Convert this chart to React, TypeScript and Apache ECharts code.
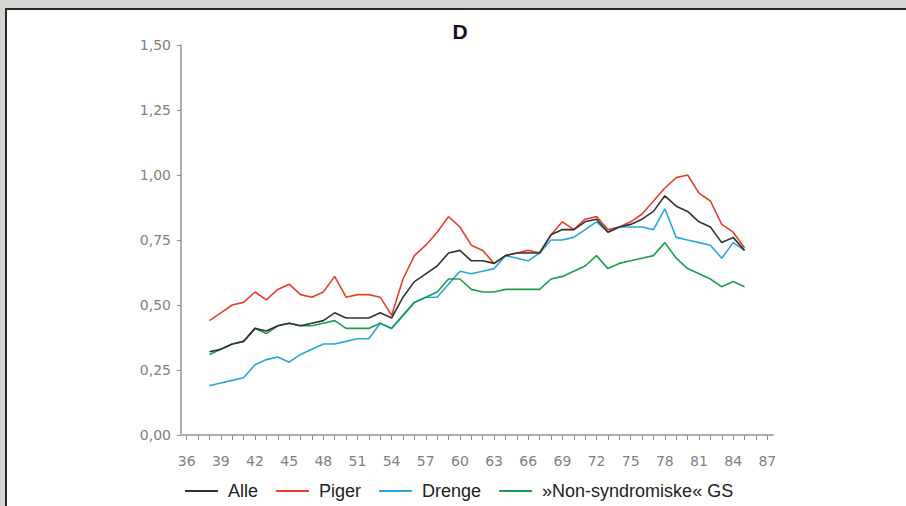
import React, { useEffect, useRef } from "react";
import * as echarts from "echarts";

const years: string[] = [];
for (let y = 36; y <= 87; y++) years.push(String(y));

// values for ages 38..85
const alle = [0.32, 0.33, 0.35, 0.36, 0.41, 0.40, 0.42, 0.43, 0.42, 0.43, 0.44, 0.47, 0.45, 0.45, 0.45, 0.47, 0.45, 0.53, 0.59, 0.62, 0.65, 0.70, 0.71, 0.67, 0.67, 0.66, 0.69, 0.70, 0.70, 0.70, 0.77, 0.79, 0.79, 0.82, 0.83, 0.78, 0.80, 0.81, 0.83, 0.86, 0.92, 0.88, 0.86, 0.82, 0.80, 0.74, 0.76, 0.71];
const piger = [0.44, 0.47, 0.50, 0.51, 0.55, 0.52, 0.56, 0.58, 0.54, 0.53, 0.55, 0.61, 0.53, 0.54, 0.54, 0.53, 0.46, 0.60, 0.69, 0.73, 0.78, 0.84, 0.80, 0.73, 0.71, 0.66, 0.69, 0.70, 0.71, 0.70, 0.77, 0.82, 0.79, 0.83, 0.84, 0.79, 0.80, 0.82, 0.85, 0.90, 0.95, 0.99, 1.00, 0.93, 0.90, 0.81, 0.78, 0.72];
const drenge = [0.19, 0.20, 0.21, 0.22, 0.27, 0.29, 0.30, 0.28, 0.31, 0.33, 0.35, 0.35, 0.36, 0.37, 0.37, 0.43, 0.41, 0.46, 0.51, 0.53, 0.53, 0.58, 0.63, 0.62, 0.63, 0.64, 0.69, 0.68, 0.67, 0.70, 0.75, 0.75, 0.76, 0.79, 0.82, 0.78, 0.80, 0.80, 0.80, 0.79, 0.87, 0.76, 0.75, 0.74, 0.73, 0.68, 0.74, 0.71];
const nonSynd = [0.31, 0.33, 0.35, 0.36, 0.41, 0.39, 0.42, 0.43, 0.42, 0.42, 0.43, 0.44, 0.41, 0.41, 0.41, 0.43, 0.41, 0.46, 0.51, 0.53, 0.55, 0.60, 0.60, 0.56, 0.55, 0.55, 0.56, 0.56, 0.56, 0.56, 0.60, 0.61, 0.63, 0.65, 0.69, 0.64, 0.66, 0.67, 0.68, 0.69, 0.74, 0.68, 0.64, 0.62, 0.60, 0.57, 0.59, 0.57];

const seriesNames = ["Alle", "Piger", "Drenge", "»Non-syndromiske« GS"];
const seriesColors = ["#333333", "#e5402a", "#29a6df", "#1d9e4f"];
const firstAge = 38;

function pad(vals: number[]): (number | null)[] {
  const out: (number | null)[] = [];
  years.forEach((y) => {
    const i = Number(y) - firstAge;
    out.push(i >= 0 && i < vals.length ? vals[i] : null);
  });
  return out;
}

const FONT = "'Liberation Sans', Arial, sans-serif";
const TICKFONT = "'DejaVu Sans', sans-serif";

export default function App() {
  const ref = useRef<HTMLDivElement>(null);
  useEffect(() => {
    if (!ref.current) return;
    const chart = echarts.init(ref.current, undefined, { renderer: "svg" });
    const data = [alle, piger, drenge, nonSynd];
    chart.setOption({
      animation: false,
      backgroundColor: "transparent",
      title: {
        text: "D",
        left: 460,
        top: 21,
        padding: 0,
        textAlign: "center",
        textStyle: { fontFamily: FONT, fontSize: 21, fontWeight: "bold", color: "#111" },
      },
      grid: { left: 181, right: 133, top: 45, bottom: 71 },
      legend: {
        left: 185,
        top: 482,
        padding: 0,
        icon: "rect",
        itemWidth: 33,
        itemHeight: 2,
        itemGap: 18,
        textStyle: { fontFamily: FONT, fontSize: 18, color: "#222", padding: [0, 0, 0, 5] },
        data: seriesNames,
      },
      xAxis: {
        type: "category",
        data: years,
        boundaryGap: true,
        axisLine: { lineStyle: { color: "#b0b0b0", width: 2 } },
        axisTick: { show: true, alignWithLabel: true, interval: 0, length: 5, lineStyle: { color: "#909090", width: 1 } },
        axisLabel: { interval: 2, margin: 19, fontFamily: TICKFONT, fontSize: 14, color: "#808080" },
      },
      yAxis: {
        type: "value",
        min: 0,
        max: 1.5,
        interval: 0.25,
        splitLine: { show: false },
        axisLine: { show: true, lineStyle: { color: "#b0b0b0", width: 2 } },
        axisTick: { show: true, length: 4, lineStyle: { color: "#909090" } },
        axisLabel: {
          margin: 10,
          fontFamily: TICKFONT,
          fontSize: 14,
          color: "#808080",
          formatter: (v: number) => v.toFixed(2).replace(".", ","),
        },
      },
      series: seriesNames.map((n, i) => ({
        name: n,
        type: "line",
        data: pad(data[i]),
        showSymbol: false,
        symbol: "none",
        z: i === 0 ? 5 : 3,
        lineStyle: { color: seriesColors[i], width: 1.6 },
        itemStyle: { color: seriesColors[i] },
      })),
    });
    return () => chart.dispose();
  }, []);
  return (
    <div style={{ position: "absolute", left: 0, top: 0, width: 906, height: 506, background: "#d4d6d2", overflow: "hidden" }}>
      <div style={{ position: "absolute", left: 5, top: 8, width: 920, height: 520, background: "#fff", borderLeft: "2px solid #2a2a2a", borderTop: "2px solid #2a2a2a", boxSizing: "border-box" }} />
      <div ref={ref} style={{ position: "absolute", left: 0, top: 0, width: 906, height: 506 }} />
    </div>
  );
}
